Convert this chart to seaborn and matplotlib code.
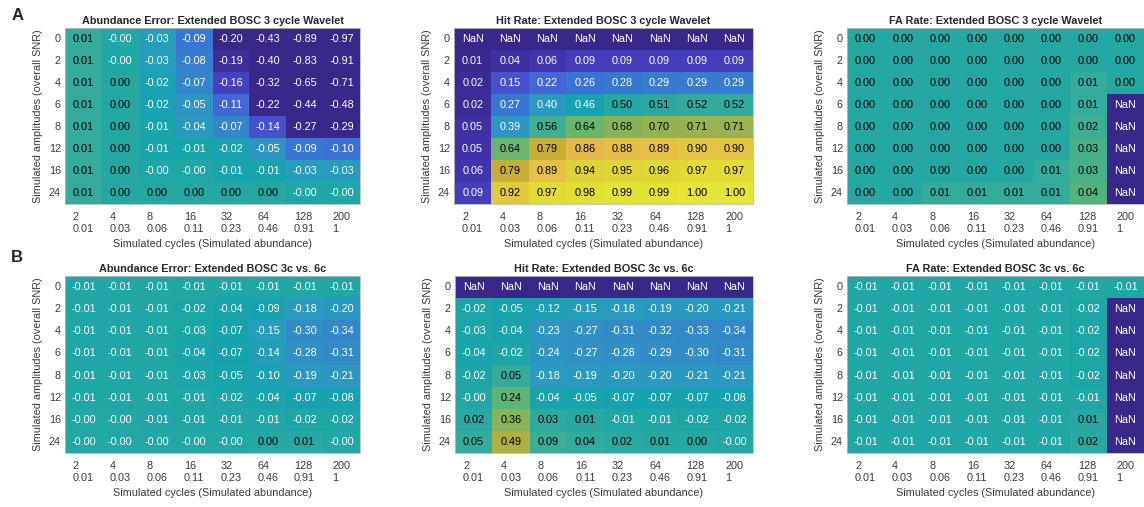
import numpy as np
import pandas as pd
import matplotlib
matplotlib.use("Agg")
import matplotlib.pyplot as plt
import seaborn as sns
from matplotlib.colors import LinearSegmentedColormap

nan = np.nan

# ---------------- data ----------------
snr_levels = [0, 2, 4, 6, 8, 12, 16, 24]
cycles = [2, 4, 8, 16, 32, 64, 128, 200]
abundance = ["0.01", "0.03", "0.06", "0.11", "0.23", "0.46", "0.91", "1"]

abund_err_a = [
    [0.01, -0.002, -0.03, -0.09, -0.20, -0.43, -0.89, -0.97],
    [0.01, -0.002, -0.03, -0.08, -0.19, -0.40, -0.83, -0.91],
    [0.01, 0.00, -0.02, -0.07, -0.16, -0.32, -0.65, -0.71],
    [0.01, 0.00, -0.02, -0.05, -0.11, -0.22, -0.44, -0.48],
    [0.01, 0.00, -0.01, -0.04, -0.07, -0.14, -0.27, -0.29],
    [0.01, 0.00, -0.01, -0.01, -0.02, -0.05, -0.09, -0.10],
    [0.01, 0.00, -0.002, -0.002, -0.01, -0.01, -0.03, -0.03],
    [0.01, 0.00, 0.00, 0.00, 0.00, 0.00, -0.002, -0.002],
]
hit_a = [
    [nan, nan, nan, nan, nan, nan, nan, nan],
    [0.01, 0.04, 0.06, 0.09, 0.09, 0.09, 0.09, 0.09],
    [0.02, 0.15, 0.22, 0.26, 0.28, 0.29, 0.29, 0.29],
    [0.02, 0.27, 0.40, 0.46, 0.50, 0.51, 0.52, 0.52],
    [0.05, 0.39, 0.56, 0.64, 0.68, 0.70, 0.71, 0.71],
    [0.05, 0.64, 0.79, 0.86, 0.88, 0.89, 0.90, 0.90],
    [0.06, 0.79, 0.89, 0.94, 0.95, 0.96, 0.97, 0.97],
    [0.09, 0.92, 0.97, 0.98, 0.99, 0.99, 1.00, 1.00],
]
fa_a = [
    [0.00, 0.00, 0.00, 0.00, 0.00, 0.00, 0.00, 0.00],
    [0.00, 0.00, 0.00, 0.00, 0.00, 0.00, 0.00, 0.00],
    [0.00, 0.00, 0.00, 0.00, 0.00, 0.00, 0.01, 0.00],
    [0.00, 0.00, 0.00, 0.00, 0.00, 0.00, 0.01, nan],
    [0.00, 0.00, 0.00, 0.00, 0.00, 0.00, 0.02, nan],
    [0.00, 0.00, 0.00, 0.00, 0.00, 0.00, 0.03, nan],
    [0.00, 0.00, 0.00, 0.00, 0.00, 0.01, 0.03, nan],
    [0.00, 0.00, 0.01, 0.01, 0.01, 0.01, 0.04, nan],
]
abund_err_b = [
    [-0.01, -0.01, -0.01, -0.01, -0.01, -0.01, -0.01, -0.01],
    [-0.01, -0.01, -0.01, -0.02, -0.04, -0.09, -0.18, -0.20],
    [-0.01, -0.01, -0.01, -0.03, -0.07, -0.15, -0.30, -0.34],
    [-0.01, -0.01, -0.01, -0.04, -0.07, -0.14, -0.28, -0.31],
    [-0.01, -0.01, -0.01, -0.03, -0.05, -0.10, -0.19, -0.21],
    [-0.01, -0.01, -0.01, -0.01, -0.02, -0.04, -0.07, -0.08],
    [-0.002, -0.002, -0.01, -0.01, -0.01, -0.01, -0.02, -0.02],
    [-0.002, -0.002, -0.002, -0.002, -0.002, 0.00, 0.01, -0.002],
]
hit_b = [
    [nan, nan, nan, nan, nan, nan, nan, nan],
    [-0.02, -0.05, -0.12, -0.15, -0.18, -0.19, -0.20, -0.21],
    [-0.03, -0.04, -0.23, -0.27, -0.31, -0.32, -0.33, -0.34],
    [-0.04, -0.02, -0.24, -0.27, -0.28, -0.29, -0.30, -0.31],
    [-0.02, 0.05, -0.18, -0.19, -0.20, -0.20, -0.21, -0.21],
    [-0.002, 0.24, -0.04, -0.05, -0.07, -0.07, -0.07, -0.08],
    [0.02, 0.36, 0.03, 0.01, -0.01, -0.01, -0.02, -0.02],
    [0.05, 0.49, 0.09, 0.04, 0.02, 0.01, 0.00, -0.002],
]
fa_b = [
    [-0.01, -0.01, -0.01, -0.01, -0.01, -0.01, -0.01, -0.01],
    [-0.01, -0.01, -0.01, -0.01, -0.01, -0.01, -0.02, nan],
    [-0.01, -0.01, -0.01, -0.01, -0.01, -0.01, -0.02, nan],
    [-0.01, -0.01, -0.01, -0.01, -0.01, -0.01, -0.02, nan],
    [-0.01, -0.01, -0.01, -0.01, -0.01, -0.01, -0.02, nan],
    [-0.01, -0.01, -0.01, -0.01, -0.01, -0.01, -0.01, nan],
    [-0.01, -0.01, -0.01, -0.01, -0.01, -0.01, 0.01, nan],
    [-0.01, -0.01, -0.01, -0.01, -0.01, -0.01, 0.02, nan],
]

titles = [
    "Abundance Error: Extended BOSC 3 cycle Wavelet",
    "Hit Rate: Extended BOSC 3 cycle Wavelet",
    "FA Rate: Extended BOSC 3 cycle Wavelet",
    "Abundance Error: Extended BOSC 3c vs. 6c",
    "Hit Rate: Extended BOSC 3c vs. 6c",
    "FA Rate: Extended BOSC 3c vs. 6c",
]
color_limits = [(-0.2, 0.2), (0.0, 1.0), (-0.2, 0.2), (-1, 1), (-1, 1), (-1, 1)]
panels = [abund_err_a, hit_a, fa_a, abund_err_b, hit_b, fa_b]

# ---------------- parula-like colormap (slightly muted, as printed) ----------------
parula_rgb = [
    (0.2422, 0.1504, 0.6603), (0.2504, 0.1650, 0.7076), (0.2578, 0.1818, 0.7511),
    (0.2647, 0.1978, 0.7952), (0.2706, 0.2147, 0.8364), (0.2751, 0.2342, 0.8710),
    (0.2783, 0.2559, 0.8991), (0.2803, 0.2782, 0.9221), (0.2813, 0.3006, 0.9414),
    (0.2810, 0.3228, 0.9579), (0.2795, 0.3447, 0.9717), (0.2760, 0.3667, 0.9829),
    (0.2699, 0.3892, 0.9906), (0.2602, 0.4123, 0.9952), (0.2440, 0.4358, 0.9988),
    (0.2206, 0.4603, 0.9973), (0.1963, 0.4847, 0.9892), (0.1834, 0.5074, 0.9798),
    (0.1786, 0.5289, 0.9682), (0.1764, 0.5499, 0.9520), (0.1687, 0.5703, 0.9359),
    (0.1540, 0.5902, 0.9218), (0.1460, 0.6091, 0.9079), (0.1380, 0.6276, 0.8973),
    (0.1248, 0.6459, 0.8883), (0.1113, 0.6635, 0.8763), (0.0952, 0.6798, 0.8598),
    (0.0689, 0.6948, 0.8394), (0.0297, 0.7082, 0.8163), (0.0036, 0.7199, 0.7909),
    (0.0067, 0.7300, 0.7635), (0.0433, 0.7394, 0.7351), (0.0964, 0.7478, 0.7048),
    (0.1408, 0.7547, 0.6780), (0.1717, 0.7623, 0.6492), (0.1938, 0.7697, 0.6192),
    (0.2161, 0.7758, 0.5858), (0.2470, 0.7814, 0.5494), (0.2906, 0.7856, 0.5092),
    (0.3406, 0.7883, 0.4665), (0.3909, 0.7889, 0.4261), (0.4456, 0.7860, 0.3879),
    (0.4975, 0.7826, 0.3512), (0.5482, 0.7789, 0.3147), (0.5974, 0.7731, 0.2792),
    (0.6459, 0.7663, 0.2438), (0.6954, 0.7602, 0.2085), (0.7418, 0.7543, 0.1798),
    (0.7876, 0.7484, 0.1542), (0.8320, 0.7432, 0.1320), (0.8757, 0.7381, 0.1157),
    (0.9180, 0.7334, 0.1186), (0.9598, 0.7289, 0.1361), (0.9914, 0.7377, 0.1831),
    (0.9990, 0.7620, 0.2064), (0.9962, 0.7874, 0.2006), (0.9952, 0.8126, 0.1787),
    (0.9879, 0.8392, 0.1580), (0.9767, 0.8633, 0.1376), (0.9631, 0.8885, 0.1155),
    (0.9567, 0.9132, 0.0958), (0.9594, 0.9387, 0.0817), (0.9683, 0.9634, 0.0648),
    (0.9769, 0.9839, 0.0805),
]


def muted(rgb, mix=0.18, scale=0.93):
    r, g, b = rgb
    lum = 0.3 * r + 0.59 * g + 0.11 * b
    return tuple(min(1.0, scale * ((1 - mix) * c + mix * lum)) for c in (r, g, b))


parula = LinearSegmentedColormap.from_list("parula_muted", [muted(c) for c in parula_rgb])

# ---------------- figure ----------------
sns.set_style("white")
plt.rcParams["font.family"] = ["Liberation Sans", "DejaVu Sans"]

W, H = 1144, 507
fig = plt.figure(figsize=(W / 100, H / 100), dpi=100)

# axes rectangles in pixels: (left, top, width, height)
rects = [
    (65, 28, 295, 176), (454, 28, 299, 176), (847, 28, 297, 176),
    (65, 276, 295, 177), (455, 276, 298, 177), (847, 276, 297, 177),
]

xlabels = [f"{c}\n{a}" for c, a in zip(cycles, abundance)]
tick_gray = "#3a3a3a"
fs = 7.8

for data, title, (vmin, vmax), (l, t, w, h) in zip(panels, titles, color_limits, rects):
    ax = fig.add_axes([l / W, 1 - (t + h) / H, w / W, h / H])
    arr = np.array(data, dtype=float)
    nanmask = np.isnan(arr)
    plot_vals = np.where(nanmask, vmin, arr)
    labels = np.empty(arr.shape, dtype=object)
    for i in range(arr.shape[0]):
        for j in range(arr.shape[1]):
            labels[i, j] = "NaN" if nanmask[i, j] else f"{arr[i, j]:.2f}"
    df = pd.DataFrame(plot_vals, index=snr_levels, columns=cycles)
    sns.heatmap(df, ax=ax, cmap=parula, vmin=vmin, vmax=vmax, cbar=False,
                annot=labels, fmt="", annot_kws=dict(fontsize=fs))
    mid = (vmin + vmax) / 2
    for txt, v in zip(ax.texts, arr.ravel()):
        txt.set_color("white" if (np.isnan(v) or v < mid) else "black")

    ax.set_xticklabels(xlabels, rotation=0, ha="center", multialignment="left")
    ax.set_yticklabels([str(s) for s in snr_levels], rotation=0)
    ax.tick_params(axis="both", direction="in", length=3, width=0.6,
                   color="#555555", labelsize=fs, labelcolor=tick_gray,
                   top=True, right=True)
    ax.tick_params(axis="x", pad=6)
    ax.tick_params(axis="y", pad=3)
    for side in ["top", "bottom", "left", "right"]:
        ax.spines[side].set_visible(True)
        ax.spines[side].set_color("#bbbbbb")
        ax.spines[side].set_linewidth(0.6)
    ax.set_xlabel("Simulated cycles (Simulated abundance)", fontsize=fs,
                  color=tick_gray, labelpad=4)
    ax.set_ylabel("Simulated amplitudes (overall SNR)", fontsize=fs,
                  color=tick_gray, labelpad=4)
    ax.set_title(title, fontsize=fs, fontweight="bold", pad=3)

fig.text(18 / W, 1 - 16 / H, "A", fontsize=12, fontweight="bold", ha="center", va="center")
fig.text(17 / W, 1 - 258 / H, "B", fontsize=12, fontweight="bold", ha="center", va="center")

fig.savefig("out.png", dpi=100)
